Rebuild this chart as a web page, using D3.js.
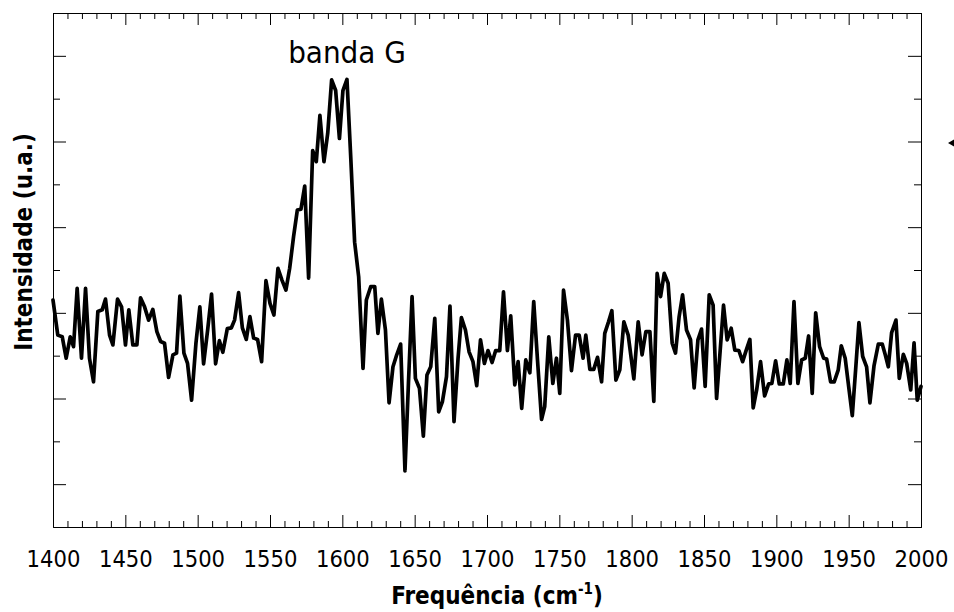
<!DOCTYPE html>
<html>
<head>
<meta charset="utf-8">
<script src="https://cdn.jsdelivr.net/npm/d3@7/dist/d3.min.js"></script>
<style>
  html, body { margin: 0; padding: 0; background: #fff; }
  svg { display: block; }
  .tick text { font-family: "DejaVu Sans Condensed", "DejaVu Sans", sans-serif; font-stretch: condensed; }
</style>
</head>
<body>
<svg id="chart" width="954" height="612"></svg>
<script>
// Raman spectrum, G band region
const wavenumber = [
  1400.0, 1403.3, 1406.4, 1409.1, 1411.9, 1414.2, 1416.7, 1419.7, 1422.5, 1425.2,
  1428.0, 1431.0, 1434.0, 1436.3, 1439.1, 1441.4, 1444.6, 1447.4, 1450.1, 1452.4,
  1455.2, 1458.0, 1460.5, 1463.3, 1466.1, 1469.0, 1471.8, 1474.4, 1477.1, 1479.9,
  1482.9, 1485.4, 1487.7, 1490.5, 1493.0, 1495.8, 1498.8, 1501.5, 1504.1, 1506.9,
  1509.6, 1512.4, 1515.0, 1517.4, 1520.5, 1523.3, 1525.5, 1528.3, 1530.9, 1533.6,
  1536.1, 1538.7, 1541.4, 1544.2, 1547.2, 1550.0, 1552.7, 1555.5, 1558.2, 1561.0,
  1563.6, 1566.3, 1568.9, 1571.4, 1574.0, 1576.7, 1579.5, 1582.0, 1584.5, 1587.3,
  1589.9, 1592.6, 1595.4, 1598.0, 1600.4, 1603.2, 1605.9, 1608.5, 1611.3, 1614.3,
  1616.6, 1619.6, 1622.4, 1624.6, 1627.0, 1629.8, 1632.3, 1635.0, 1637.6, 1640.3,
  1643.3, 1645.7, 1648.2, 1650.5, 1653.3, 1656.0, 1658.5, 1661.1, 1663.9, 1666.6,
  1669.2, 1672.0, 1674.4, 1677.2, 1680.0, 1682.3, 1685.1, 1687.6, 1690.3, 1692.9,
  1695.5, 1698.2, 1700.7, 1703.5, 1706.0, 1708.8, 1711.4, 1714.1, 1716.4, 1719.2,
  1721.5, 1724.0, 1726.8, 1729.6, 1732.3, 1734.9, 1737.7, 1739.9, 1742.7, 1745.5,
  1748.0, 1750.3, 1752.9, 1755.6, 1758.4, 1761.2, 1763.7, 1766.4, 1768.3, 1771.1,
  1773.8, 1776.4, 1779.2, 1781.4, 1784.0, 1786.3, 1789.1, 1791.8, 1794.6, 1797.6,
  1801.5, 1804.5, 1807.2, 1809.8, 1812.6, 1815.3, 1817.6, 1820.0, 1822.5, 1825.2,
  1828.0, 1830.3, 1832.8, 1835.2, 1837.9, 1840.7, 1843.2, 1845.8, 1848.3, 1850.8,
  1853.6, 1856.3, 1858.7, 1861.2, 1863.5, 1866.0, 1868.8, 1871.3, 1874.1, 1876.7,
  1879.2, 1881.7, 1884.0, 1886.4, 1889.1, 1891.9, 1894.7, 1896.9, 1899.5, 1902.0,
  1904.8, 1907.3, 1909.6, 1912.2, 1914.9, 1917.5, 1920.0, 1922.3, 1924.8, 1927.2,
  1929.9, 1932.7, 1934.8, 1937.5, 1940.0, 1942.8, 1944.9, 1947.6, 1950.0, 1952.5,
  1954.8, 1957.1, 1959.7, 1962.4, 1964.7, 1967.5, 1970.5, 1973.2, 1975.3, 1977.4,
  1979.7, 1982.7, 1985.0, 1987.8, 1990.1, 1992.9, 1995.2, 1997.4, 2000.0
];

const intensity = [
  5.30, 4.48, 4.44, 3.94, 4.44, 4.21, 5.57, 3.94, 5.57, 3.94,
  3.39, 5.03, 5.07, 5.32, 4.48, 4.25, 5.32, 5.14, 4.25, 5.07,
  4.25, 4.25, 5.35, 5.14, 4.83, 5.08, 4.56, 4.33, 4.29, 3.49,
  4.02, 4.06, 5.39, 4.06, 3.82, 2.96, 4.29, 5.14, 3.81, 4.60,
  5.44, 3.81, 4.35, 4.08, 4.63, 4.65, 4.83, 5.47, 4.65, 4.38,
  4.91, 4.41, 4.38, 3.86, 5.75, 5.22, 4.95, 6.04, 5.77, 5.53,
  6.04, 6.78, 7.40, 7.42, 7.96, 5.81, 8.79, 8.53, 9.61, 8.53,
  9.19, 10.44, 10.19, 9.07, 10.19, 10.45, 8.57, 6.65, 5.84, 3.70,
  5.30, 5.61, 5.61, 4.52, 5.32, 4.60, 2.90, 3.74, 4.02, 4.27,
  1.31, 3.36, 5.38, 3.47, 3.24, 2.12, 3.55, 3.74, 4.87, 2.69,
  2.93, 3.51, 5.16, 2.46, 3.94, 4.89, 4.60, 4.09, 3.86, 3.30,
  4.37, 3.82, 4.12, 3.84, 4.12, 4.12, 5.49, 4.12, 4.93, 3.32,
  3.86, 2.77, 3.90, 3.60, 5.26, 3.90, 2.51, 2.81, 4.44, 3.35,
  3.94, 3.12, 5.53, 4.83, 3.65, 4.48, 4.48, 3.94, 4.48, 3.68,
  3.68, 3.96, 3.39, 4.52, 4.79, 5.05, 3.43, 3.67, 4.79, 4.48,
  3.46, 4.79, 4.02, 4.56, 4.56, 2.93, 5.92, 5.38, 5.92, 5.69,
  4.29, 4.06, 4.91, 5.42, 4.60, 4.37, 3.25, 4.37, 4.62, 3.28,
  5.42, 5.18, 3.00, 4.13, 5.18, 4.37, 4.64, 4.13, 4.12, 3.86,
  4.13, 4.38, 2.78, 3.20, 3.86, 3.06, 3.34, 3.35, 3.88, 3.34,
  3.34, 3.90, 3.35, 5.26, 3.35, 3.90, 3.94, 4.46, 3.12, 5.00,
  4.21, 3.94, 3.92, 3.39, 3.39, 3.67, 4.23, 3.94, 3.28, 2.60,
  3.67, 4.77, 3.98, 3.74, 2.90, 3.76, 4.27, 4.27, 4.02, 3.74,
  4.54, 4.83, 3.47, 4.03, 3.82, 3.20, 4.30, 2.96, 3.28
];

const xMajorTicks = d3.range(1400, 2001, 50);
const xMinorTicks = d3.range(1400, 2001, 10).filter(v => v % 50 !== 0);
const yMajorTicks = [1, 3, 5, 7, 9, 11];
const yMinorTicks = [2, 4, 6, 8, 10];

const bandLabel = "banda G";
const xTitle = "Frequência (cm";
const xTitleSup = "-1";
const yTitle = "Intensidade (u.a.)";

(function drawChart() {
  const svg = d3.select("#chart");
  const plotLeft = 53, plotRight = 921, plotTop = 13, plotBottom = 527;

  const x = d3.scaleLinear().domain([1400, 2000]).range([plotLeft, plotRight]);
  const y = d3.scaleLinear().domain([0, 12]).range([plotBottom, plotTop]);

  const majorLen = 12, minorLen = 6, yMajorLen = 13, yMinorLen = 7;
  const fontStack = "'DejaVu Sans Condensed', 'DejaVu Sans', sans-serif";

  function styleAxis(g) {
    g.selectAll(".domain").attr("stroke", "#000").attr("stroke-width", 1);
    g.selectAll(".tick line").attr("stroke", "#000").attr("stroke-width", 1);
  }

  // bottom axis
  svg.append("g").attr("transform", `translate(0,${plotBottom})`)
    .call(d3.axisBottom(x).tickValues(xMinorTicks).tickSize(-minorLen).tickSizeOuter(0).tickFormat(""))
    .call(styleAxis);
  svg.append("g").attr("transform", `translate(0,${plotBottom})`)
    .call(d3.axisBottom(x).tickValues(xMajorTicks).tickSize(-majorLen).tickSizeOuter(0).tickPadding(23).tickFormat(d3.format("d")))
    .call(styleAxis)
    .call(g => g.selectAll(".tick text").attr("font-size", 23.5).attr("fill", "#000"));

  // top axis
  svg.append("g").attr("transform", `translate(0,${plotTop})`)
    .call(d3.axisTop(x).tickValues(xMinorTicks).tickSize(-minorLen).tickSizeOuter(0).tickFormat(""))
    .call(styleAxis);
  svg.append("g").attr("transform", `translate(0,${plotTop})`)
    .call(d3.axisTop(x).tickValues(xMajorTicks).tickSize(-majorLen).tickSizeOuter(0).tickFormat(""))
    .call(styleAxis);

  // left axis
  svg.append("g").attr("transform", `translate(${plotLeft},0)`)
    .call(d3.axisLeft(y).tickValues(yMinorTicks).tickSize(-yMinorLen).tickSizeOuter(0).tickFormat(""))
    .call(styleAxis);
  svg.append("g").attr("transform", `translate(${plotLeft},0)`)
    .call(d3.axisLeft(y).tickValues(yMajorTicks).tickSize(-yMajorLen).tickSizeOuter(0).tickFormat(""))
    .call(styleAxis);

  // right axis
  svg.append("g").attr("transform", `translate(${plotRight},0)`)
    .call(d3.axisRight(y).tickValues(yMinorTicks).tickSize(-yMinorLen).tickSizeOuter(0).tickFormat(""))
    .call(styleAxis);
  svg.append("g").attr("transform", `translate(${plotRight},0)`)
    .call(d3.axisRight(y).tickValues(yMajorTicks).tickSize(-yMajorLen).tickSizeOuter(0).tickFormat(""))
    .call(styleAxis);

  // spectrum
  const points = wavenumber.map((w, i) => [w, intensity[i]]);
  const line = d3.line().x(d => x(d[0])).y(d => y(d[1]));
  svg.append("path")
    .datum(points)
    .attr("d", line)
    .attr("fill", "none")
    .attr("stroke", "#000")
    .attr("stroke-width", 3.7)
    .attr("stroke-linejoin", "round")
    .attr("stroke-linecap", "round");

  // band annotation
  svg.append("text")
    .attr("x", 347).attr("y", 63)
    .attr("text-anchor", "middle")
    .attr("font-family", fontStack)
    .attr("font-stretch", "condensed")
    .attr("font-size", 31)
    .attr("fill", "#000")
    .text(bandLabel);

  // x title
  const xt = svg.append("text")
    .attr("x", 497).attr("y", 604)
    .attr("text-anchor", "middle")
    .attr("font-family", fontStack)
    .attr("font-stretch", "condensed")
    .attr("font-weight", "bold")
    .attr("font-size", 24)
    .attr("fill", "#000");
  xt.append("tspan").text(xTitle);
  xt.append("tspan").attr("dy", -10).attr("font-size", 15).text(xTitleSup);
  xt.append("tspan").attr("dy", 10).text(")");

  // y title
  svg.append("text")
    .attr("transform", "translate(32,242) rotate(-90)")
    .attr("text-anchor", "middle")
    .attr("font-family", fontStack)
    .attr("font-stretch", "condensed")
    .attr("font-weight", "bold")
    .attr("font-size", 24)
    .attr("fill", "#000")
    .text(yTitle);

  // small marker at the right edge
  svg.append("path")
    .attr("d", "M948,143 L954,139.5 L954,146.5 Z")
    .attr("fill", "#000");
})();
</script>
</body>
</html>
